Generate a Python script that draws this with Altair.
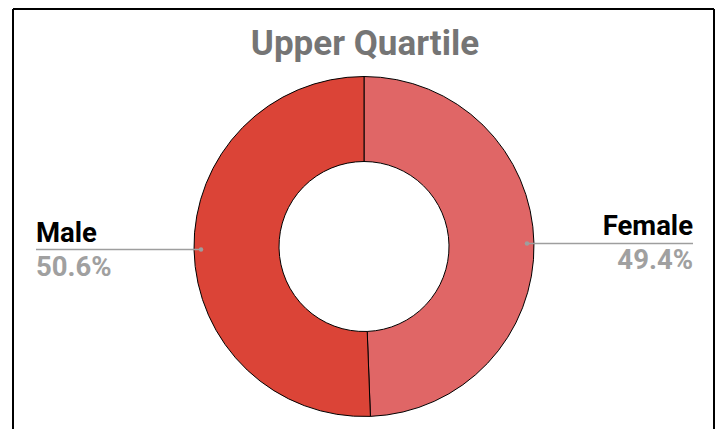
import math
import altair as alt
import pandas as pd

title_text = "Upper Quartile"
genders = ["Female", "Male"]
shares = [49.4, 50.6]
colors = ["#E06666", "#DB4437"]

# layout (pixels inside the chart)
W, H = 707, 421
CX, CY = 356, 238.5
R_OUT, R_IN, R_DOT = 170, 85, 163
LEFT_X, RIGHT_X = 28, 685

rows = []
cum = 0.0
total = sum(shares)
for i, (g, s) in enumerate(zip(genders, shares)):
    mid = (cum + s / 2) / total * 2 * math.pi
    cum += s
    dx = CX + R_DOT * math.sin(mid)
    dy = CY - R_DOT * math.cos(mid)
    right = math.sin(mid) >= 0
    rows.append({
        "gender": g,
        "share": s,
        "order": i,
        "pct": f"{s:.1f}%",
        "dot_x": dx,
        "dot_y": dy,
        "end_x": RIGHT_X if right else LEFT_X,
        "side": "right" if right else "left",
    })
df = pd.DataFrame(rows)

base = alt.Chart(df)

donut = base.mark_arc(innerRadius=R_IN, outerRadius=R_OUT, stroke="black", strokeWidth=1).encode(
    theta=alt.Theta("share:Q", stack=True),
    order=alt.Order("order:Q"),
    color=alt.Color("gender:N", scale=alt.Scale(domain=genders, range=colors), legend=None),
    x=alt.value(CX),
    y=alt.value(CY),
)

leader = base.mark_rule(color="#9e9e9e", strokeWidth=1.5).encode(
    x=alt.X("dot_x:Q", scale=None),
    x2="end_x:Q",
    y=alt.Y("dot_y:Q", scale=None),
)

dots = base.mark_circle(color="#9e9e9e", size=20, opacity=1).encode(
    x=alt.X("dot_x:Q", scale=None),
    y=alt.Y("dot_y:Q", scale=None),
)

def side_labels(side, align):
    b = base.transform_filter(alt.datum.side == side)
    name = b.mark_text(align=align, baseline="alphabetic", dy=-8, font="Roboto",
                       fontWeight="bold", fontSize=27.5, color="black").encode(
        x=alt.X("end_x:Q", scale=None),
        y=alt.Y("dot_y:Q", scale=None),
        text="gender:N",
    )
    pct = b.mark_text(align=align, baseline="alphabetic", dy=26, font="Roboto",
                      fontWeight="bold", fontSize=27.5, color="#a0a0a0").encode(
        x=alt.X("end_x:Q", scale=None),
        y=alt.Y("dot_y:Q", scale=None),
        text="pct:N",
    )
    return name + pct

title = alt.Chart(pd.DataFrame({"t": [title_text]})).mark_text(
    align="center", baseline="alphabetic", font="Roboto", fontWeight="bold",
    fontSize=35, color="#757575",
).encode(x=alt.value(CX + 1), y=alt.value(47), text="t:N")

frame_df = pd.DataFrame({"x": [5, 5, 706], "x2": [5, 706, 706], "y": [1, 1, 1], "y2": [H, 1, H]})
frame = alt.Chart(frame_df).mark_rule(color="black", strokeWidth=2).encode(
    x=alt.X("x:Q", scale=None), x2="x2:Q",
    y=alt.Y("y:Q", scale=None), y2="y2:Q",
)

chart = alt.layer(
    frame, donut, leader, dots, side_labels("left", "left"), side_labels("right", "right"), title
).properties(
    width=W, height=H, autosize=alt.AutoSizeParams(type="none"), padding=0
).configure_view(stroke=None)

chart.save("out.html", embed_options={"renderer": "svg", "actions": False})
